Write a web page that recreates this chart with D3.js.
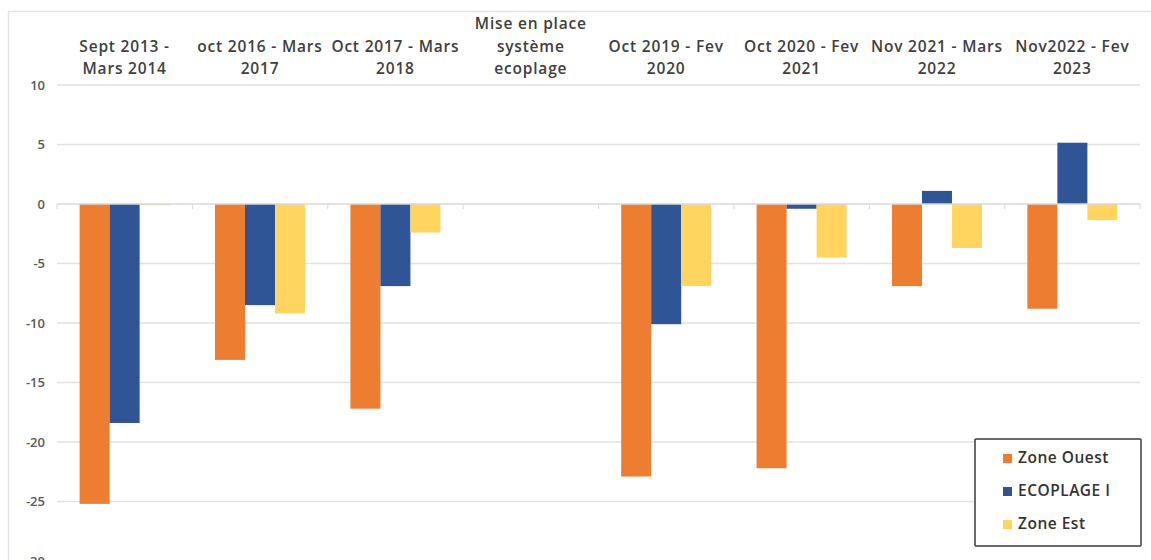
<html>
<script src="https://d3js.org/d3.v7.min.js"></script>
<style>
    body { margin: 0; background: #fff; }
    text { font-family: "Open Sans", Lato, sans-serif; }
</style>

<body>
    <script>
        var width = 1151;
        var height = 560;

        // data
        var categories = [
            "Sept 2013 -\nMars 2014",
            "oct 2016 - Mars\n2017",
            "Oct 2017 - Mars\n2018",
            "Mise en place\nsystème\necoplage",
            "Oct 2019 - Fev\n2020",
            "Oct 2020 - Fev\n2021",
            "Nov 2021 - Mars\n2022",
            "Nov2022 - Fev\n2023"
        ];
        var seriesNames = ["Zone Ouest", "ECOPLAGE I", "Zone Est"];
        var zoneOuest = [-25.2, -13.1, -17.2, null, -22.9, -22.2, -6.9, -8.8];
        var ecoplage = [-18.4, -8.5, -6.9, null, -10.1, -0.4, 1.1, 5.15];
        var zoneEst = [-0.1, -9.2, -2.4, null, -6.9, -4.5, -3.7, -1.35];
        var yTicks = [10, 5, 0, -5, -10, -15, -20, -25, -30];

        var colors = ["#ED7D31", "#2F5597", "#FFD55F"];
        var series = [zoneOuest, ecoplage, zoneEst];

        var svg = d3.select("body").append("svg")
            .attr("width", width)
            .attr("height", height);

        // faint chart frame
        svg.append("path")
            .attr("d", "M8.5," + height + "V11.5H" + width)
            .attr("fill", "none")
            .attr("stroke", "#e3e3e3")
            .attr("stroke-width", 1.5);

        var x = d3.scaleBand()
            .domain(d3.range(categories.length))
            .range([57, 1140])
            .paddingInner(0.335)
            .paddingOuter(0.167);

        var x1 = d3.scaleBand()
            .domain(d3.range(series.length))
            .range([0, x.bandwidth()]);

        var y = d3.scaleLinear()
            .domain([-30, 10])
            .range([561, 85]);

        // grid
        svg.append("g").selectAll("line")
            .data(yTicks.filter(t => t !== 0))
            .join("line")
            .attr("x1", 57).attr("x2", 1140)
            .attr("y1", d => y(d)).attr("y2", d => y(d))
            .attr("stroke", "#e2e2e2")
            .attr("stroke-width", 1.3);

        // y labels
        svg.append("g").selectAll("text")
            .data(yTicks)
            .join("text")
            .attr("x", 45)
            .attr("y", d => y(d))
            .attr("dy", "0.35em")
            .attr("text-anchor", "end")
            .attr("font-size", 13)
            .attr("font-weight", 600)
            .attr("fill", "#595959")
            .text(d => d);

        // bars
        var groups = svg.append("g").selectAll("g")
            .data(categories.map((c, i) => i))
            .join("g")
            .attr("transform", i => `translate(${x(i)},0)`);

        groups.selectAll("rect")
            .data(i => series.map((s, k) => ({ k: k, v: s[i] })).filter(d => d.v !== null))
            .join("rect")
            .attr("x", d => x1(d.k))
            .attr("width", x1.bandwidth())
            .attr("y", d => Math.min(y(d.v), y(0)))
            .attr("height", d => Math.abs(y(d.v) - y(0)))
            .attr("fill", d => colors[d.k]);

        // zero axis with small ticks between categories
        svg.append("line")
            .attr("x1", 57).attr("x2", 1140)
            .attr("y1", y(0)).attr("y2", y(0))
            .attr("stroke", "#d9d9d9")
            .attr("stroke-width", 1.3);

        var step = x.step();
        svg.append("g").selectAll("line")
            .data(d3.range(categories.length + 1))
            .join("line")
            .attr("x1", i => 57 + i * step).attr("x2", i => 57 + i * step)
            .attr("y1", y(0)).attr("y2", y(0) + 5)
            .attr("stroke", "#d9d9d9");

        // category labels at top
        var labels = svg.append("g").selectAll("text")
            .data(categories)
            .join("text")
            .attr("x", (d, i) => x(i) + x.bandwidth() / 2)
            .attr("text-anchor", "middle")
            .attr("font-size", 15.5)
            .attr("font-weight", 600)
            .attr("letter-spacing", 0.8)
            .attr("fill", "#404040");

        labels.each(function (d) {
            var lines = d.split("\n");
            var t = d3.select(this);
            lines.forEach((l, j) => {
                t.append("tspan")
                    .attr("x", t.attr("x"))
                    .attr("y", 74 - (lines.length - 1 - j) * 22.5)
                    .text(l);
            });
        });

        // legend
        var legend = svg.append("g").attr("transform", "translate(975,439)");
        legend.append("rect")
            .attr("width", 166).attr("height", 107)
            .attr("fill", "#fff")
            .attr("stroke", "#3a3a3a")
            .attr("stroke-width", 1.5)
            .attr("rx", 1);

        var items = legend.selectAll("g")
            .data(seriesNames)
            .join("g")
            .attr("transform", (d, i) => `translate(28,${19 + i * 33})`);

        items.append("rect")
            .attr("x", 0).attr("y", -4)
            .attr("width", 9).attr("height", 9)
            .attr("fill", (d, i) => colors[i]);

        items.append("text")
            .attr("x", 15)
            .attr("dy", "0.35em")
            .attr("font-size", 15.5)
            .attr("font-weight", 600)
            .attr("letter-spacing", 0.5)
            .attr("fill", "#333")
            .text(d => d);
    </script>
</body>

</html>
